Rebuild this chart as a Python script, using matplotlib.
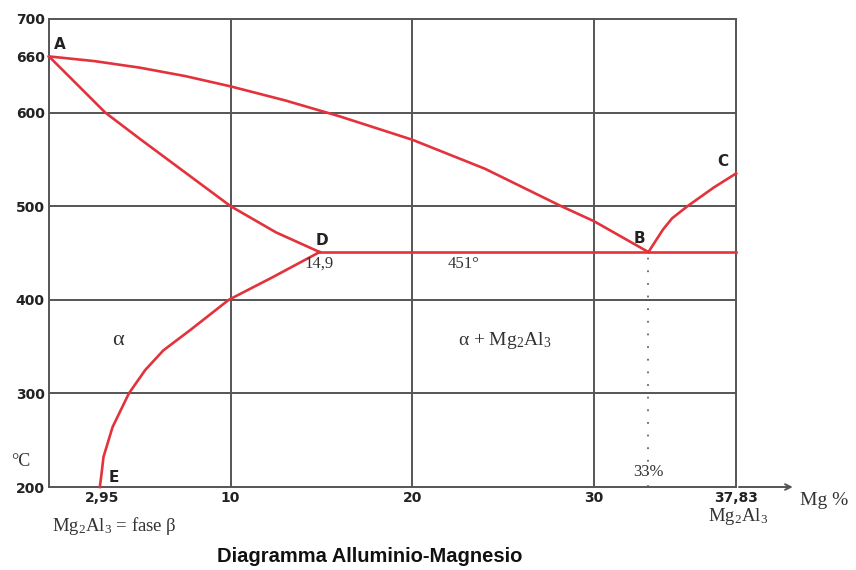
import matplotlib.pyplot as plt

plt.rcParams["mathtext.fontset"] = "custom"
plt.rcParams["mathtext.rm"] = "Liberation Serif"
plt.rcParams["mathtext.it"] = "Liberation Serif:italic"

# liquidus A-B, B-C, solidus A-D, solvus D-E (Mg %, °C)
liq_ab_x = [0, 2.5, 5, 7.5, 10, 13, 16, 20, 24, 28.2, 30, 33]
liq_ab_y = [660, 655, 648, 639, 628, 613, 596, 571, 540, 500, 484, 451]
liq_bc_x = [33, 33.8, 34.3, 35.15, 36.6, 37.83]
liq_bc_y = [451, 475, 487, 500, 520, 535]
sol_ad_x = [0, 1.5, 3.1, 5, 7.5, 10, 12.5, 14.9]
sol_ad_y = [660, 631, 600, 572, 536, 500, 472, 451]
solv_x = [2.8, 2.9, 3.0, 3.5, 4.4, 5.3, 6.3, 7.8, 9.9, 12.3, 14.9]
solv_y = [200, 215, 232, 264, 300, 325, 346, 368, 400, 424, 451]
eut_x = [14.9, 37.83]
eut_y = [451, 451]
y_ticks = [200, 300, 400, 500, 600, 660, 700]
x_ticks = [2.95, 10, 20, 30, 37.83]
x_labels = ["2,95", "10", "20", "30", "37,83"]

red = "#e3323c"
grey = "#555555"
serif = "Liberation Serif"

fig = plt.figure(figsize=(8.56, 5.70), dpi=100)
ax = fig.add_axes([0.0572, 0.1456, 0.8028, 0.8211])
ax.set_xlim(0, 37.83)
ax.set_ylim(200, 700)

for gx in [10, 20, 30]:
    ax.axvline(gx, color=grey, lw=1.4, zorder=1)
for gy in [300, 400, 500, 600]:
    ax.axhline(gy, color=grey, lw=1.4, zorder=1)
for s in ax.spines.values():
    s.set_color(grey)
    s.set_linewidth(1.4)

for xs, ys in [(liq_ab_x, liq_ab_y), (liq_bc_x, liq_bc_y), (sol_ad_x, sol_ad_y),
               (solv_x, solv_y), (eut_x, eut_y)]:
    ax.plot(xs, ys, color=red, lw=1.9, zorder=3, clip_on=False,
            solid_joinstyle="round")

ax.plot([33, 33], [200, 451], color="#666666", lw=1.3, ls=(0, (1, 6)), zorder=2)

ax.set_yticks(y_ticks)
ax.set_yticklabels([str(v) for v in y_ticks], fontweight="bold", fontsize=10)
ax.set_xticks(x_ticks)
ax.set_xticklabels(x_labels, fontweight="bold", fontsize=10)
ax.tick_params(length=0, pad=3, colors="#222222")

# x axis arrow
ax.annotate("", xy=(41.1, 200), xytext=(37.83, 200), xycoords="data",
            arrowprops=dict(arrowstyle="->", color=grey, lw=1.4), annotation_clip=False)

lab = dict(fontweight="bold", fontsize=11, color="#222222")
ax.text(0.3, 665, "A", ha="left", va="bottom", **lab)
ax.text(14.7, 455, "D", ha="left", va="bottom", **lab)
ax.text(32.2, 458, "B", ha="left", va="bottom", **lab)
ax.text(37.4, 540, "C", ha="right", va="bottom", **lab)
ax.text(3.3, 202, "E", ha="left", va="bottom", **lab)

ser = dict(family=serif, color="#333333")
ax.text(14.85, 447, "14,9", ha="center", va="top", fontsize=12, **ser)
ax.text(22.8, 447, "451°", ha="center", va="top", fontsize=12, **ser)
ax.text(33, 207, "33%", ha="center", va="bottom", fontsize=12, **ser)
ax.text(3.8, 356, "α", ha="center", va="center", fontsize=16, **ser)
ax.text(25.1, 356, "α + Mg$_2$Al$_3$", ha="center", va="center", fontsize=14, **ser)
ax.text(-1.0, 227, "°C", ha="right", va="center", fontsize=13, clip_on=False, **ser)
ax.text(44.0, 186, "Mg %", ha="right", va="center", fontsize=14, clip_on=False, **ser)
ax.text(0.15, 158, "Mg$_2$Al$_3$ = fase β", ha="left", va="center", fontsize=13.5, clip_on=False, **ser)
ax.text(37.95, 168, "Mg$_2$Al$_3$", ha="center", va="center", fontsize=13.5, clip_on=False, **ser)

fig.text(0.254, 0.023, "Diagramma Alluminio-Magnesio", ha="left", va="center",
         fontsize=14.5, fontweight="bold", family="Liberation Sans", color="#111111")

fig.savefig("out.png", dpi=100, facecolor="white")
